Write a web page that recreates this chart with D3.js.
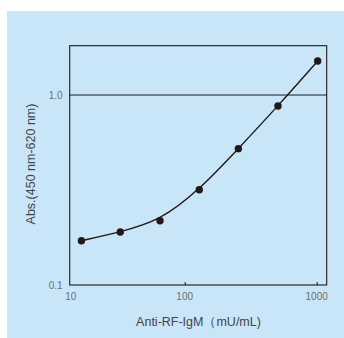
<!DOCTYPE html>
<html>
<head>
<meta charset="utf-8">
<script src="https://cdn.jsdelivr.net/npm/d3@7"></script>
<style>
  html, body { margin: 0; padding: 0; background: #ffffff; }
  svg { display: block; }
</style>
</head>
<body>
<svg id="chart" width="344" height="338"></svg>
<script>
// ---- data ----
const concentrations = [16.5, 32.5, 65, 129, 255, 509, 1018];   // mU/mL
const absorbance     = [0.171, 0.190, 0.218, 0.317, 0.522, 0.875, 1.51];
const xTickValues    = [100, 1000];
const xTickLabels    = ["10", "100", "1000"];
const yTickValues    = [0.1, 1.0];
const yTickLabels    = ["0.1", "1.0"];
const xDomain        = [13.45, 1191];
const yDomain        = [0.1, 1.818];
const xTitle         = "Anti-RF-IgM（mU/mL)";
const yTitle         = "Abs.(450 nm-620 nm)";

// ---- layout ----
const W = 344, H = 338;
const plot = { left: 69.7, right: 326.7, top: 45.7, bottom: 285 };
const ink = "#231815";
const bg = "#c8e6f8";
const labelGray = "#6e6e6e";

const svg = d3.select("#chart");

// panel background
svg.append("rect")
  .attr("x", 7).attr("y", 11)
  .attr("width", W - 7).attr("height", H - 11)
  .attr("fill", bg);

const x = d3.scaleLog().domain(xDomain).range([plot.left, plot.right]);
const y = d3.scaleLog().domain(yDomain).range([plot.bottom, plot.top]);

const g = svg.append("g");

// 1.0 reference line across the plot
g.append("line")
  .attr("x1", plot.left).attr("x2", plot.right)
  .attr("y1", y(1.0)).attr("y2", y(1.0))
  .attr("stroke", ink).attr("stroke-width", 1);

// x-axis ticks (inward, small)
const xAxis = d3.axisBottom(x).tickValues(xTickValues).tickSize(-3).tickFormat("");
const xa = g.append("g").attr("transform", `translate(0,${plot.bottom})`).call(xAxis);
xa.select(".domain").remove();
xa.selectAll(".tick line").attr("stroke", ink).attr("stroke-width", 1);

// frame
g.append("rect")
  .attr("x", plot.left).attr("y", plot.top)
  .attr("width", plot.right - plot.left).attr("height", plot.bottom - plot.top)
  .attr("fill", "none").attr("stroke", ink).attr("stroke-width", 1.1);

// x tick labels (10 at left frame edge)
const xLabelPos = [xDomain[0], ...xTickValues];
g.selectAll("text.xl").data(xTickLabels).enter().append("text")
  .attr("class", "xl")
  .attr("x", (d, i) => x(xLabelPos[i]) + (i === 0 ? 1 : 0))
  .attr("y", plot.bottom + 15)
  .attr("text-anchor", "middle")
  .attr("font-family", "Liberation Sans Narrow, Arial Narrow, Liberation Sans, sans-serif")
  .attr("font-size", 10)
  .attr("fill", labelGray)
  .text(d => d);

// y tick labels
g.selectAll("text.yl").data(yTickLabels).enter().append("text")
  .attr("class", "yl")
  .attr("x", plot.left - 7)
  .attr("y", (d, i) => y(yTickValues[i]) + 3.5)
  .attr("text-anchor", "end")
  .attr("font-family", "Liberation Sans Narrow, Arial Narrow, Liberation Sans, sans-serif")
  .attr("font-size", 10)
  .attr("fill", labelGray)
  .text(d => d);

// curve
const pts = concentrations.map((c, i) => [c, absorbance[i]]);
const line = d3.line().x(d => x(d[0])).y(d => y(d[1])).curve(d3.curveBasis);
g.append("path")
  .attr("d", line(pts))
  .attr("fill", "none").attr("stroke", ink).attr("stroke-width", 1.4);

// points
g.selectAll("circle.pt").data(pts).enter().append("circle")
  .attr("class", "pt")
  .attr("cx", d => x(d[0])).attr("cy", d => y(d[1]))
  .attr("r", 3.7).attr("fill", ink);

// axis titles
svg.append("text")
  .attr("x", 198.5).attr("y", 326)
  .attr("text-anchor", "middle")
  .attr("font-family", "Liberation Sans, Arial, sans-serif")
  .attr("font-size", 12.5)
  .attr("fill", "#444")
  .text(xTitle);

svg.append("text")
  .attr("transform", `translate(34.5,164) rotate(-90)`)
  .attr("text-anchor", "middle")
  .attr("font-family", "Liberation Sans, Arial, sans-serif")
  .attr("font-size", 12.5)
  .attr("fill", "#444")
  .text(yTitle);
</script>
</body>
</html>
